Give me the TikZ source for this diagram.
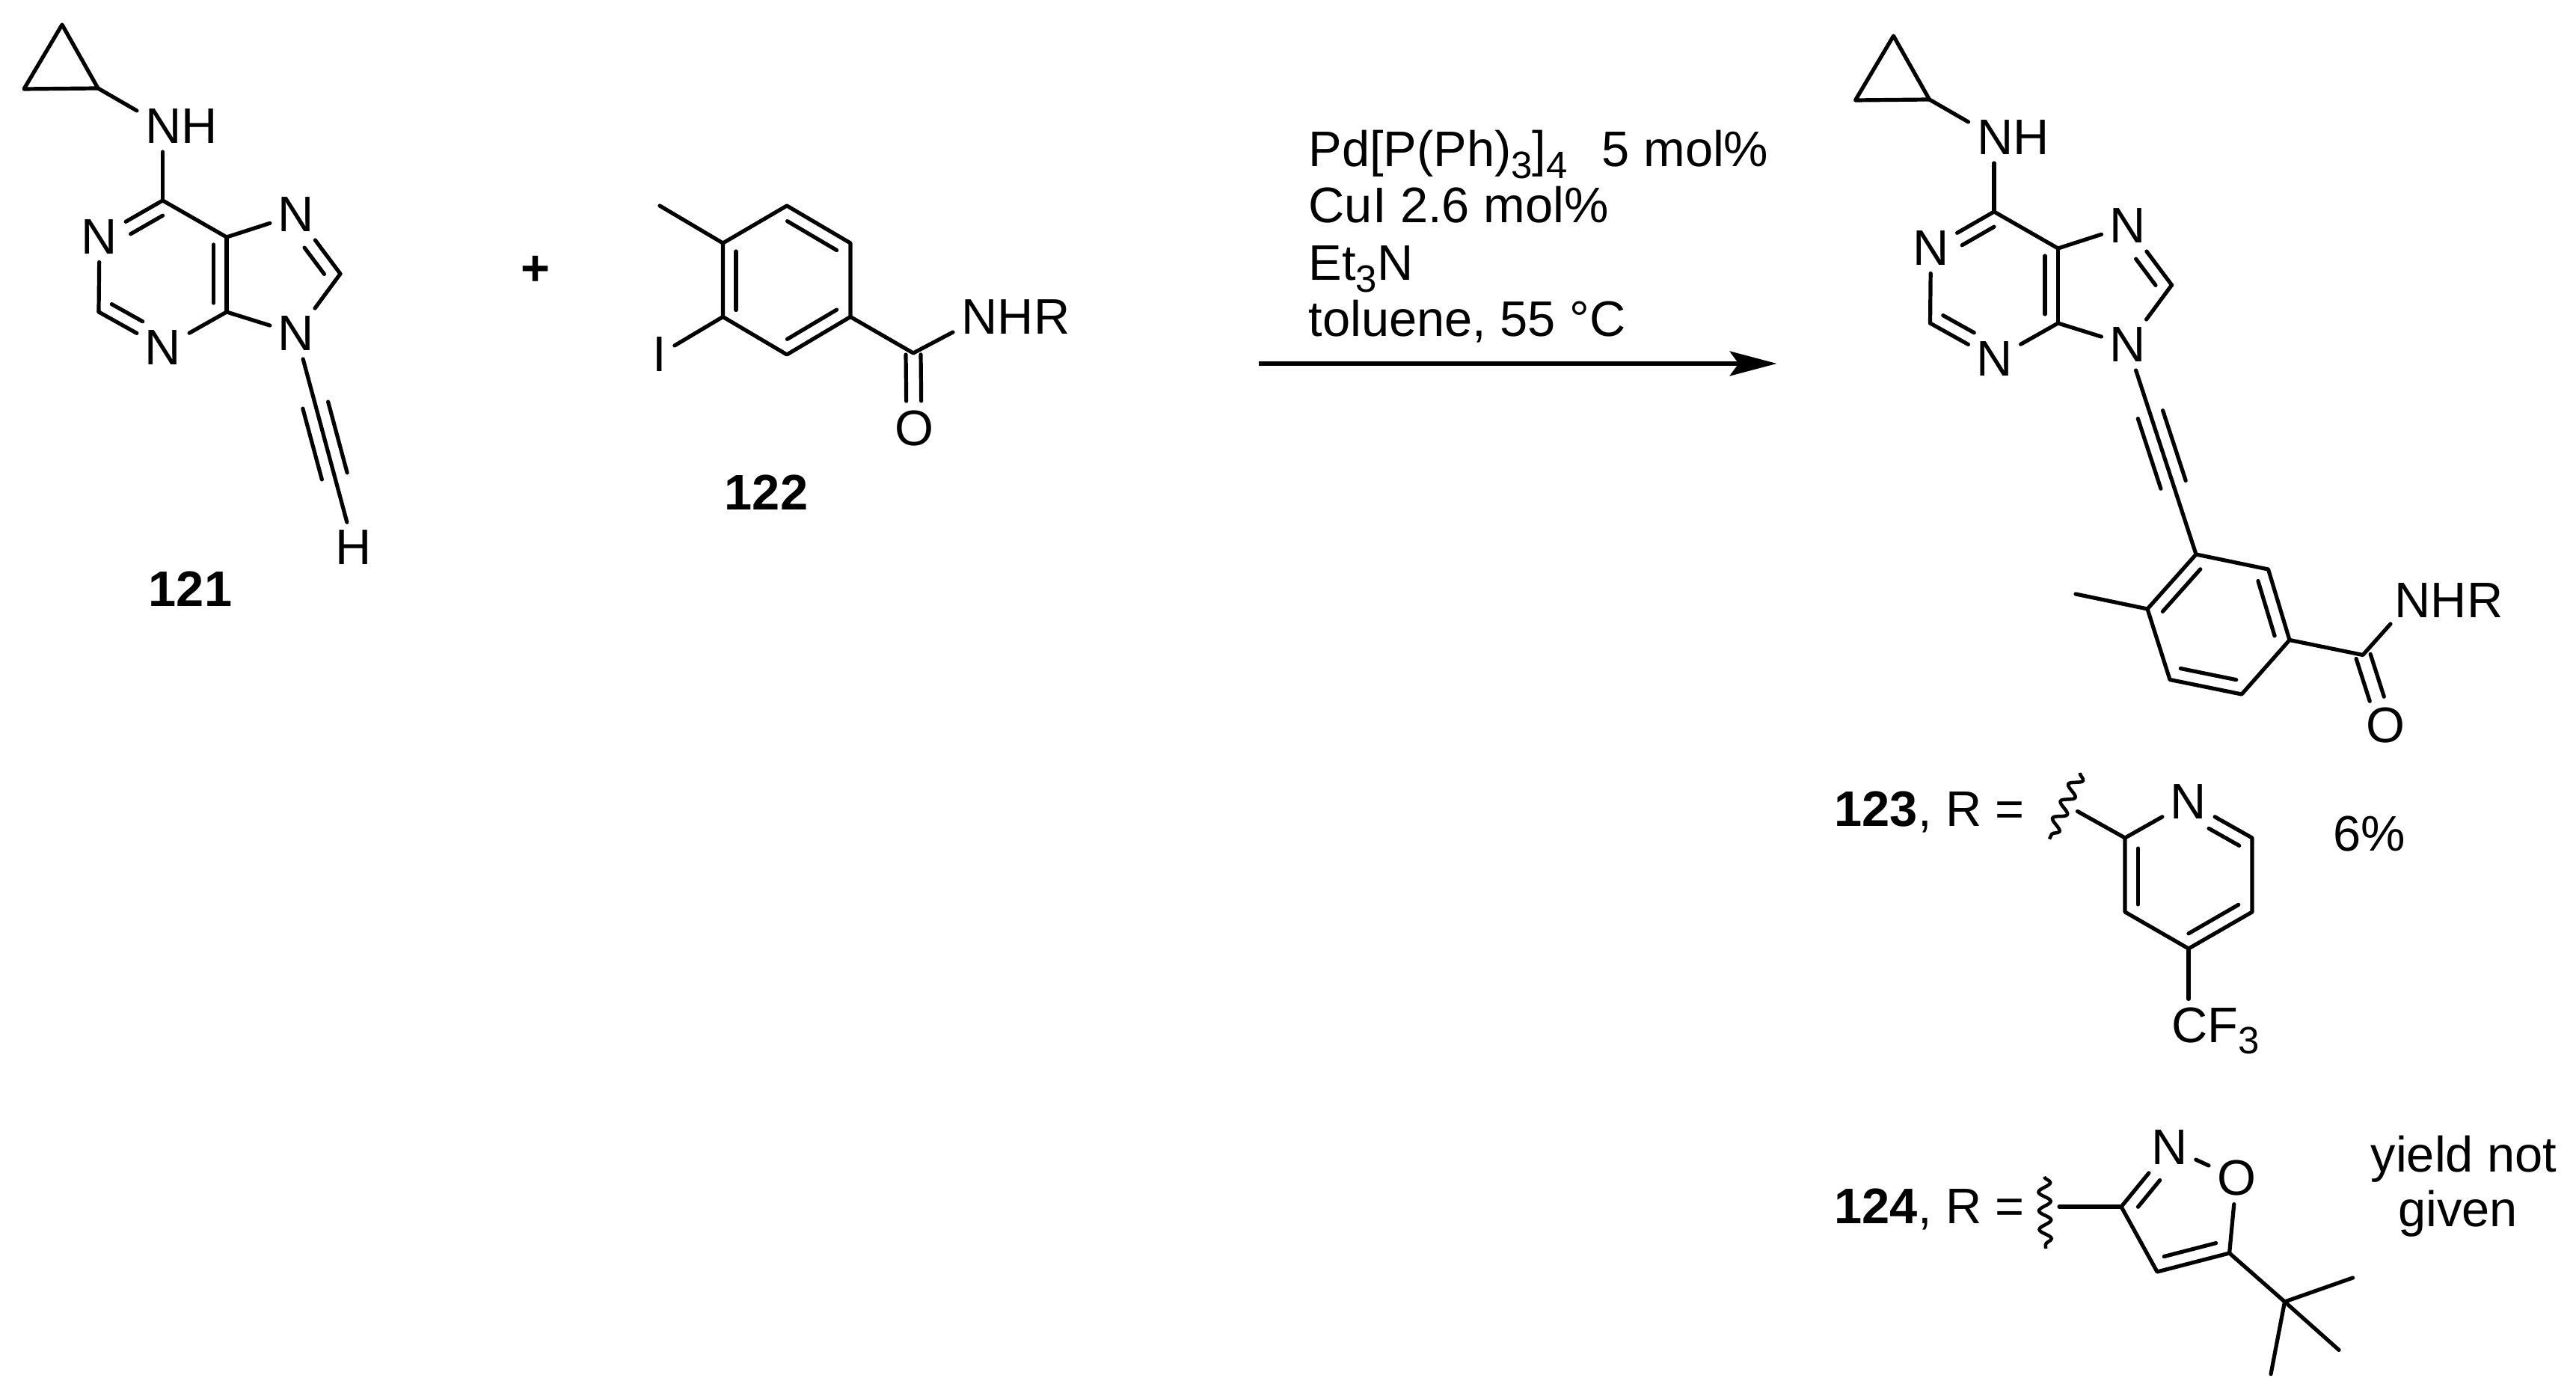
\documentclass[tikz,border=0pt]{standalone}
\usepackage{fontspec}
\setmainfont{Liberation Sans}
\usepackage{tikz}
\usetikzlibrary{calc,arrows.meta,decorations.pathmorphing}
\newcommand{\chemfont}{\fontsize{19}{21}\selectfont}
\newcommand{\chemsub}[1]{\raisebox{-4.3pt}{\fontsize{14.5}{15}\selectfont #1}}
\newcommand{\offbond}[5]{\draw[bond,shorten <=#4cm,shorten >=#5cm] ($(#1)!#3cm!90:(#2)$) -- ($(#2)!#3cm!-90:(#1)$);}
\tikzset{
    every node/.style={font=\chemfont},
    bond/.style={line width=.052cm,line cap=round,line join=round},
    atom/.style={inner sep=0pt,outer sep=.11cm},
    rgt/.style={anchor=base west,inner sep=0pt},
    cpd/.style={inner sep=0pt,font=\chemfont\bfseries},
    wavy/.style={line width=.045cm,decorate,decoration={snake,amplitude=.08cm,segment length=.25cm}},
    purine/.pic={
        \coordinate (cpA) at (0.83,-0.33);
        \coordinate (cpB) at (0.32,-1.19);
        \coordinate (cpC) at (1.31,-1.18);
        \coordinate (cpN) at (1.83,-1.48);
        \coordinate (C6) at (2.175,-2.68);
        \coordinate (C5) at (3.03,-3.17);
        \coordinate (C4) at (3.03,-4.17);
        \coordinate (C2) at (1.32,-4.17);
        \coordinate (C8) at (4.55,-3.66);
        \node[atom] (NH) at (2.43,-1.69) {NH};
        \foreach \n/\p in {N1/{1.33,-3.165},N3/{2.18,-4.65},N7/{3.96,-2.87},N9/{3.96,-4.46}}
            \node[atom] (\n) at (\p) {N};
        \draw[bond] (cpA) -- (cpB) -- (cpC) -- cycle;
        \draw[bond] (cpC) -- (cpN);
        \draw[bond] (C6) -- (NH.south -| C6);
        \draw[bond] (C6) -- (N1);
        \draw[bond] (N1) -- (C2);
        \draw[bond] (C2) -- (N3);
        \draw[bond] (N3) -- (C4);
        \draw[bond] (C4) -- (C5);
        \draw[bond] (C5) -- (C6);
        \draw[bond] (C5) -- (N7);
        \draw[bond] (N7) -- (C8);
        \draw[bond] (C8) -- (N9);
        \draw[bond] (N9) -- (C4);
        \offbond{C6}{N1}{.175}{.1}{.38}
        \offbond{C2}{N3}{.175}{.1}{.41}
        \offbond{C4}{C5}{.175}{.12}{.1}
        \offbond{C8}{N7}{.175}{.126}{.42}
    }
}
\begin{document}
\begin{tikzpicture}
        \useasboundingbox (0,0) rectangle (34.44,-18.66);

        % 121
        \pic (a) at (0,0) {purine};
        \node[atom] (aH) at (4.73,-7.32) {H};
        \draw[bond] (aN9) -- (aH);
        \offbond{aN9}{aH}{.175}{.99}{.99}
        \offbond{aN9}{aH}{-.175}{.99}{.99}
        \node[cpd] (lab121) at (2.545,-7.87) {121};

        \node[inner sep=0pt,font=\chemfont\bfseries] (plus) at (7.16,-3.62) {+};

        % 122
        \coordinate (bMe) at (8.82,-2.75);
        \coordinate (b1) at (9.665,-3.25);
        \coordinate (b2) at (9.665,-4.235);
        \coordinate (b3) at (10.52,-4.74);
        \coordinate (b4) at (11.37,-4.235);
        \coordinate (b5) at (11.37,-3.25);
        \coordinate (b6) at (10.52,-2.75);
        \coordinate (bC) at (12.21,-4.72);
        \coordinate (bN) at (12.74,-4.44);
        \node[atom] (bI) at (8.816,-4.74) {I};
        \node[atom] (bNHR) at (13.58,-4.24) {NHR};
        \node[atom] (bO) at (12.22,-5.73) {O};
        \draw[bond] (b1) -- (b2) -- (b3) -- (b4) -- (b5) -- (b6) -- cycle;
        \draw[bond] (bMe) -- (b1);
        \draw[bond] (b2) -- (bI);
        \draw[bond] (b4) -- (bC) -- (bN);
        \offbond{b1}{b2}{.175}{.11}{.09}
        \offbond{b3}{b4}{.175}{.11}{.11}
        \offbond{b5}{b6}{.175}{.11}{.11}
        \offbond{bC}{bO}{.1}{.02}{.37}
        \offbond{bC}{bO}{-.1}{.02}{.37}
        \node[cpd] (lab122) at (10.245,-6.58) {122};

        % conditions
        \node[rgt] (rgtPd) at (17.49,-2.23) {Pd[P(Ph)\chemsub{3}]\chemsub{4}\ \ \kern2.5pt 5 mol\%};
        \node[rgt] (rgtCu) at (17.49,-2.98) {CuI 2.6 mol\%};
        \node[rgt] (rgtEt) at (17.49,-3.75) {Et\chemsub{3}N};
        \node[rgt] (rgtTol) at (17.49,-4.50) {toluene, 55 °C};
        \coordinate (arrS) at (16.83,-4.86);
        \coordinate (arrE) at (23.755,-4.86);
        \draw[bond,line cap=butt,-{Stealth[length=.63cm,width=.33cm,inset=.12cm]}] (arrS) -- (arrE);

        % product
        \pic (c) at (24.485,-0.15) {purine};
        \coordinate (c1) at (29.36,-7.41);
        \coordinate (c2) at (28.71,-8.14);
        \coordinate (c3) at (29.01,-9.085);
        \coordinate (c4) at (29.97,-9.28);
        \coordinate (c5) at (30.61,-8.555);
        \coordinate (c6) at (30.325,-7.61);
        \coordinate (cMe) at (27.75,-7.94);
        \coordinate (cC) at (31.59,-8.755);
        \coordinate (cN) at (31.96,-8.34);
        \node[atom] (cNHR) at (32.74,-8.03) {NHR};
        \node[atom] (cO) at (31.89,-9.695) {O};
        \draw[bond] (cN9) -- (c1);
        \offbond{cN9}{c1}{.175}{.98}{.98}
        \offbond{cN9}{c1}{-.175}{.98}{.98}
        \draw[bond] (c1) -- (c2) -- (c3) -- (c4) -- (c5) -- (c6) -- cycle;
        \draw[bond] (cMe) -- (c2);
        \draw[bond] (c5) -- (cC) -- (cN);
        \offbond{c1}{c2}{.175}{.11}{.11}
        \offbond{c3}{c4}{.175}{.11}{.11}
        \offbond{c5}{c6}{.175}{.11}{.11}
        \offbond{cC}{cO}{.1}{.02}{.37}
        \offbond{cC}{cO}{-.1}{.02}{.37}

        % 123
        \node[rgt] (lab123) at (24.52,-11.05) {\textbf{123}, R =};
        \coordinate (dW1) at (27.81,-10.33);
        \coordinate (dW2) at (27.40,-11.215);
        \coordinate (dA) at (27.775,-10.845);
        \coordinate (d2) at (28.41,-11.20);
        \coordinate (d3) at (28.41,-12.19);
        \coordinate (d4) at (29.26,-12.68);
        \coordinate (d5) at (30.11,-12.19);
        \coordinate (d6) at (30.11,-11.20);
        \node[atom] (dN) at (29.26,-10.72) {N};
        \node[atom,anchor=base west] (dCF) at (28.92,-13.93) {CF\chemsub{3}};
        \draw[wavy] (dW1) -- (dW2);
        \draw[bond] (dA) -- (d2);
        \draw[bond] (d2) -- (dN);
        \draw[bond] (dN) -- (d6) -- (d5) -- (d4) -- (d3) -- (d2);
        \draw[bond] (d4) -- (dCF.north -| d4);
        \offbond{d6}{dN}{.175}{.1}{.41}
        \offbond{d2}{d3}{.175}{.14}{.1}
        \offbond{d4}{d5}{.175}{.1}{.11}
        \node[rgt] (yield123) at (31.19,-11.38) {6\%};

        % 124
        \node[rgt] (lab124) at (24.52,-16.35) {\textbf{124}, R =};
        \coordinate (eW1) at (27.33,-15.73);
        \coordinate (eW2) at (27.35,-16.69);
        \coordinate (eA) at (27.53,-16.13);
        \coordinate (e3) at (28.36,-16.13);
        \coordinate (e4) at (28.84,-17.00);
        \coordinate (e5) at (29.806,-16.75);
        \coordinate (eT) at (30.545,-17.40);
        \node[atom] (eN) at (29.007,-15.34) {N};
        \node[atom] (eO) at (29.90,-15.75) {O};
        \draw[wavy] (eW1) -- (eW2);
        \draw[bond] (eA) -- (e3);
        \draw[bond] (e3) -- (eN);
        \draw[bond] (eN) -- (eO);
        \draw[bond] (eO) -- (e5);
        \draw[bond] (e5) -- (e4) -- (e3);
        \offbond{eN}{e3}{.175}{.42}{.14}
        \offbond{e4}{e5}{.175}{.14}{.14}
        \draw[bond] (e5) -- (eT);
        \foreach \n/\p in {1/{31.456,-17.08},2/{31.27,-18.045},3/{30.36,-18.366}} {
            \coordinate (eMe\n) at (\p);
            \draw[bond] (eT) -- (eMe\n);
        }
        \node[anchor=base,inner sep=0pt] (yield124a) at (32.94,-15.66) {yield not};
        \node[anchor=base,inner sep=0pt] (yield124b) at (32.86,-16.39) {given};
    \end{tikzpicture}
\end{document}
